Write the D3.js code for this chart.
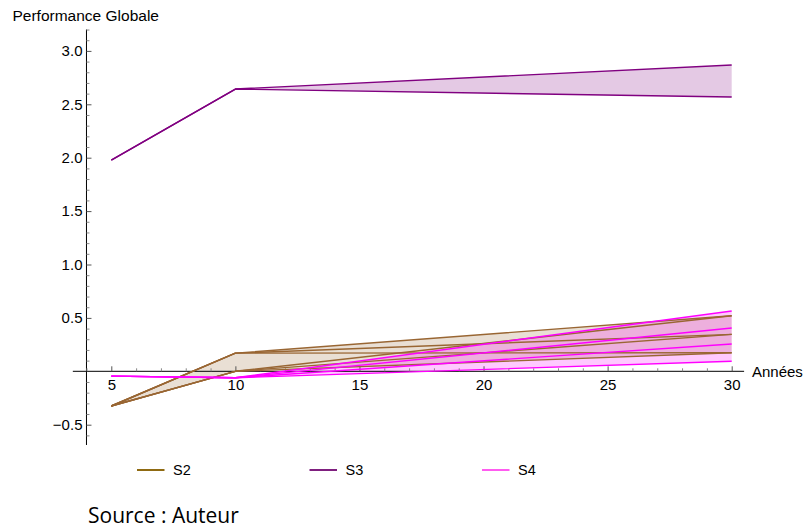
<!DOCTYPE html>
<html>
<head>
<meta charset="utf-8">
<script src="https://cdn.jsdelivr.net/npm/d3@7"></script>
<style>
  html, body { margin: 0; padding: 0; background: #fff; }
  svg { display: block; }
  text { font-family: "Liberation Sans", Arial, sans-serif; fill: #000; }
</style>
</head>
<body>
<svg id="chart" width="807" height="528"></svg>
<script>
// ---------- data ----------
const years = [5, 10, 30];
const s2Lines = [
  [-0.325, 0.17, 0.52],
  [-0.325, 0.17, 0.346],
  [-0.325, 0.17, 0.174],
  [-0.325, 0.0, 0.52],
  [-0.325, 0.0, 0.346],
  [-0.325, 0.0, 0.174]
];
const s3Lines = [
  [1.978, 2.643, 2.868],
  [1.978, 2.643, 2.568]
];
const s4Lines = [
  [-0.045, -0.06, 0.565],
  [-0.045, -0.06, 0.405],
  [-0.045, -0.06, 0.256],
  [-0.045, -0.06, 0.094]
];
const seriesNames = ["S2", "S3", "S4"];
const xTickValues = [5, 10, 15, 20, 25, 30];
const yTickValues = [-0.5, 0.5, 1.0, 1.5, 2.0, 2.5, 3.0];
const yAxisTitle = "Performance Globale";
const xAxisTitle = "Années";
const sourceText = "Source : Auteur";

// ---------- styling ----------
const lineColors = { S2: "#996633", S3: "#800080", S4: "#ff00ff" };
const legendColors = { S2: "#8f6a12", S3: "#7f1f7f", S4: "#ff5cf0" };
const fillOpacity = 0.21;

const svg = d3.select("#chart");
const x = d3.scaleLinear().domain([5, 30]).range([111.3, 731.7]);
const y = d3.scaleLinear().domain([0, 3]).range([371.3, 50.9]);

const series = [
  { name: "S2", lines: s2Lines },
  { name: "S3", lines: s3Lines },
  { name: "S4", lines: s4Lines }
];

// fills (envelope between min and max of each series)
const area = d3.area()
  .x(d => x(d.x))
  .y0(d => y(d.lo))
  .y1(d => y(d.hi));
series.forEach(s => {
  const env = years.map((yr, i) => ({
    x: yr,
    lo: d3.min(s.lines, l => l[i]),
    hi: d3.max(s.lines, l => l[i])
  }));
  svg.append("path")
    .attr("d", area(env))
    .attr("fill", lineColors[s.name])
    .attr("fill-opacity", fillOpacity)
    .attr("stroke", "none");
});

// axes lines
const axisG = svg.append("g").attr("stroke", "#000");
axisG.append("line")
  .attr("x1", x(3.45)).attr("x2", x(30.5))
  .attr("y1", y(0)).attr("y2", y(0))
  .attr("stroke-width", 1);
axisG.append("line")
  .attr("x1", x(4)).attr("x2", x(4))
  .attr("y1", y(3.2)).attr("y2", y(-0.69))
  .attr("stroke-width", 1);

// x axis major ticks with labels
const xAxis = d3.axisBottom(x)
  .tickValues(xTickValues)
  .tickSizeInner(-5)
  .tickSizeOuter(0)
  .tickPadding(8)
  .tickFormat(d3.format("d"));
const gx = svg.append("g").attr("transform", `translate(0,${y(0)})`).call(xAxis);
gx.select(".domain").remove();
gx.selectAll("text").attr("font-size", 15).attr("font-family", "Liberation Sans, Arial, sans-serif");
gx.selectAll("line").attr("stroke", "#555");

// x minor ticks
const xMinor = d3.range(4, 31).filter(v => v % 5 !== 0);
const gxm = svg.append("g").attr("transform", `translate(0,${y(0)})`)
  .call(d3.axisBottom(x).tickValues(xMinor).tickSizeInner(-3).tickSizeOuter(0).tickFormat(""));
gxm.select(".domain").remove();
gxm.selectAll("line").attr("stroke", "#888");

// y axis major ticks
const yAxis = d3.axisLeft(y)
  .tickValues(yTickValues)
  .tickSizeInner(-5)
  .tickSizeOuter(0)
  .tickPadding(4)
  .tickFormat(d3.format(".1f"));
const gy = svg.append("g").attr("transform", `translate(${x(4)},0)`).call(yAxis);
gy.select(".domain").remove();
gy.selectAll("text").attr("font-size", 15).attr("font-family", "Liberation Sans, Arial, sans-serif");
gy.selectAll("line").attr("stroke", "#555");

// y minor ticks
const yMinor = d3.range(-6, 33).map(v => v / 10).filter(v => Math.abs(v * 2 - Math.round(v * 2)) > 1e-6);
const gym = svg.append("g").attr("transform", `translate(${x(4)},0)`)
  .call(d3.axisLeft(y).tickValues(yMinor).tickSizeInner(-3).tickSizeOuter(0).tickFormat(""));
gym.select(".domain").remove();
gym.selectAll("line").attr("stroke", "#888");

// lines
const line = d3.line().x((d, i) => x(years[i])).y(d => y(d));
series.forEach(s => {
  svg.append("g").selectAll("path")
    .data(s.lines)
    .join("path")
    .attr("d", d => line(d))
    .attr("fill", "none")
    .attr("stroke", lineColors[s.name])
    .attr("stroke-width", 1.4)
    .attr("stroke-linejoin", "round");
});

// titles
svg.append("text")
  .attr("x", 12.5).attr("y", 21)
  .attr("font-size", 15.5)
  .text(yAxisTitle);
svg.append("text")
  .attr("x", 752).attr("y", y(0))
  .attr("dy", "0.35em")
  .attr("font-size", 15)
  .text(xAxisTitle);

// legend
const legendX = [137, 309.5, 482];
const legend = svg.append("g");
seriesNames.forEach((n, i) => {
  legend.append("line")
    .attr("x1", legendX[i]).attr("x2", legendX[i] + 27.5)
    .attr("y1", 470).attr("y2", 470)
    .attr("stroke", legendColors[n])
    .attr("stroke-width", 2);
  legend.append("text")
    .attr("x", legendX[i] + 36).attr("y", 470)
    .attr("dy", "0.35em")
    .attr("font-size", 14.5)
    .text(n);
});

// source
svg.append("text")
  .attr("x", 88).attr("y", 523)
  .attr("font-size", 21)
  .style("font-family", "'Open Sans', sans-serif")
  .text(sourceText);
</script>
</body>
</html>
